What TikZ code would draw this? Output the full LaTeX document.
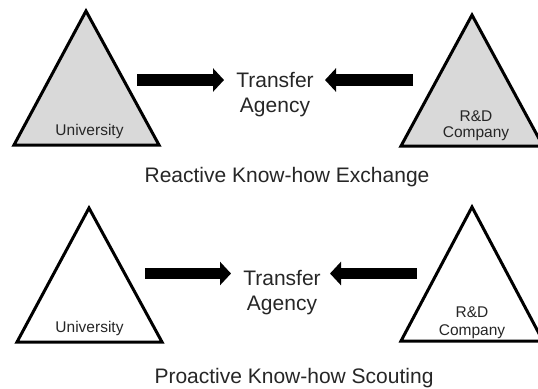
\documentclass[tikz,border=0pt]{standalone}
\usepackage{fontspec}
\setmainfont{Liberation Sans}
\usetikzlibrary{arrows.meta}
\definecolor{tri}{RGB}{217,217,217}
\definecolor{txt}{RGB}{38,38,38}
\tikzset{
  tribox/.style={draw=black, line width=3bp, line join=miter},
  bigarrow/.style={line width=12bp, -{Triangle[length=11bp,width=23bp]}},
  bigtext/.style={inner sep=0pt, anchor=base, align=center, text=txt, font=\fontsize{21bp}{25bp}\selectfont},
  smalltext/.style={inner sep=0pt, anchor=base, align=center, text=txt, font=\fontsize{15.5bp}{15.5bp}\selectfont}
}
\begin{document}
\begin{tikzpicture}[x=1bp, y=-1bp]
\useasboundingbox (0,0) rectangle (538,388);
\clip (0,0) rectangle (538,388);
% top row
\draw[tribox, fill=tri] (86,11) coordinate (ua) -- (159,145) -- (14,145) -- cycle;
\draw[tribox, fill=tri] (472,15) coordinate (ra) -- (543,146) -- (401,146) -- cycle;
\node[smalltext] (uni1) at (89.5,135) {University};
\node[smalltext] (rd1) at (476,137) {R\&D\\Company};
\node[bigtext] (ta1) at (275,112) {Transfer\\[0pt]Agency};
\coordinate (a1s) at (137,80); \coordinate (a1e) at (224,80);
\coordinate (b1s) at (413,80); \coordinate (b1e) at (325,80);
\draw[bigarrow] (a1s) -- (a1e);
\draw[bigarrow] (b1s) -- (b1e);
\node[bigtext] (cap1) at (287,182) {Reactive Know-how Exchange};
% bottom row
\draw[tribox, fill=white] (89,208) coordinate (ub) -- (162,342) -- (17,342) -- cycle;
\draw[tribox, fill=white] (472,207) coordinate (rb) -- (543,341) -- (401,341) -- cycle;
\node[smalltext] (uni2) at (89.5,332) {University};
\node[smalltext, font=\fontsize{15.5bp}{18bp}\selectfont] (rd2) at (472,335) {R\&D\\Company};
\node[bigtext] (ta2) at (282,310) {Transfer\\[0pt]Agency};
\coordinate (a2s) at (145,273.5); \coordinate (a2e) at (231,273.5);
\coordinate (b2s) at (417,273.5); \coordinate (b2e) at (330,273.5);
\draw[bigarrow, line width=11bp] (a2s) -- (a2e);
\draw[bigarrow, line width=11bp] (b2s) -- (b2e);
\node[bigtext] (cap2) at (294,383) {Proactive Know-how Scouting};
\end{tikzpicture}
\end{document}
